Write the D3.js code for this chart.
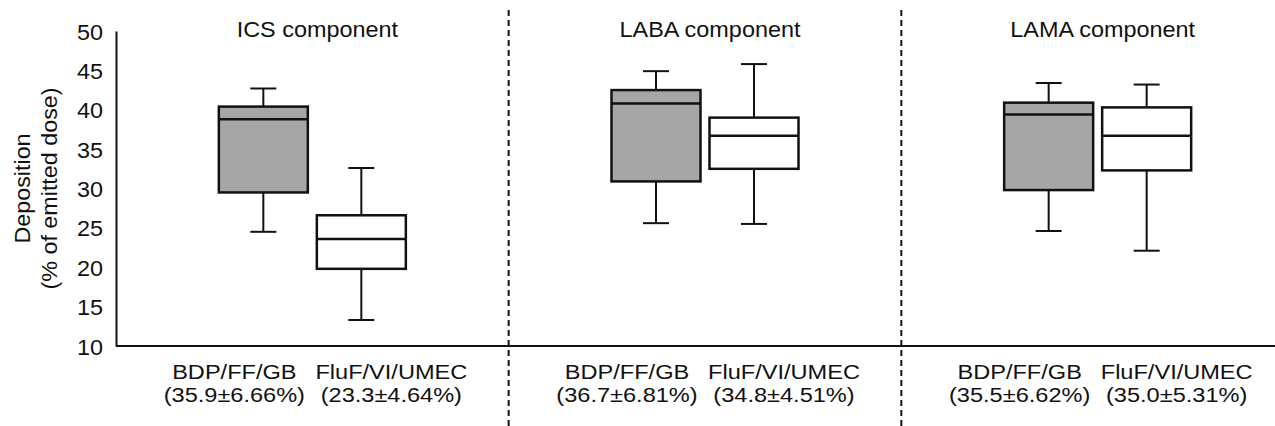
<!DOCTYPE html>
<html><head><meta charset="utf-8">
<script src="https://cdn.jsdelivr.net/npm/d3@7"></script>
<style>body{margin:0;background:#fff}svg{display:block;font-family:"Liberation Sans",Arial,sans-serif}</style>
</head><body>
<svg id="c" width="1275" height="426"></svg>
<script>
const groups = ["ICS component", "LABA component", "LAMA component"];
const products = ["BDP/FF/GB", "FluF/VI/UMEC"];
const meanLabels = ["(35.9±6.66%)", "(23.3±4.64%)", "(36.7±6.81%)", "(34.8±4.51%)", "(35.5±6.62%)", "(35.0±5.31%)"];
const whiskerLow  = [24.5, 13.3, 25.6, 25.5, 24.6, 22.1];
const q1          = [29.5, 19.8, 30.9, 32.5, 29.8, 32.3];
const median      = [38.8, 23.6, 40.8, 36.7, 39.4, 36.7];
const q3          = [40.4, 26.6, 42.5, 39.0, 40.9, 40.3];
const whiskerHigh = [42.7, 32.6, 44.9, 45.8, 43.4, 43.2];
const yTicks = [10, 15, 20, 25, 30, 35, 40, 45, 50];

const svg = d3.select("#c");
const x = d3.scaleBand().domain(groups).range([116, 1294]).padding(0);
const y = d3.scaleLinear().domain([10, 50]).range([346, 31]);
const sub = d3.scalePoint().domain(products).range([-49, 49]);
const labSub = d3.scalePoint().domain(products).range([-78, 79]);
const boxW = 89, capW = 26;
const fills = {"BDP/FF/GB": "#a6a6a6", "FluF/VI/UMEC": "#ffffff"};
const ink = "#111";

const boxes = [];
groups.forEach((g, gi) => products.forEach((p, pi) => {
  const i = gi * 2 + pi;
  boxes.push({g, p, lo: whiskerLow[i], q1: q1[i], med: median[i], q3: q3[i], hi: whiskerHigh[i], label: meanLabels[i]});
}));

// dashed separators
svg.append("g").selectAll("line").data(groups.slice(1)).join("line")
  .attr("x1", d => x(d)).attr("x2", d => x(d))
  .attr("y1", 10).attr("y2", 426)
  .attr("stroke", ink).attr("stroke-width", 2).attr("stroke-dasharray", "6,4");

// y axis
const yAxis = svg.append("g").attr("transform", "translate(116,0)")
  .call(d3.axisLeft(y).tickValues(yTicks).tickSize(0).tickPadding(13));
yAxis.select(".domain").attr("stroke", ink).attr("stroke-width", 2);
yAxis.selectAll(".tick text")
  .attr("font-size", 22.5).attr("fill", ink).attr("font-family", "Liberation Sans, Arial, sans-serif")
  .attr("transform", "translate(-13,0) scale(1.04,1) translate(13,0)").attr("dy", "0.36em");

// x axis line
svg.append("line").attr("x1", 116).attr("x2", 1275).attr("y1", y(10)).attr("y2", y(10))
  .attr("stroke", ink).attr("stroke-width", 2);

// y title
const yt = svg.append("text").attr("transform", `translate(0,${(y(10)+y(50))/2}) rotate(-90) scale(1.06,1)`)
  .attr("text-anchor", "middle").attr("font-size", 22).attr("fill", ink);
yt.append("tspan").attr("x", 0).attr("y", 30).text("Deposition");
yt.append("tspan").attr("x", 0).attr("y", 57).text("(% of emitted dose)");

// group titles
svg.append("g").selectAll("text").data(groups).join("text")
  .attr("transform", d => `translate(${x(d) + x.bandwidth() / 2 + 5},37) scale(1.09,1)`)
  .attr("text-anchor", "middle").attr("font-size", 21.5).attr("fill", ink).text(d => d);

// boxes
const bg = svg.append("g").selectAll("g").data(boxes).join("g")
  .attr("transform", d => `translate(${x(d.g) + x.bandwidth() / 2 + sub(d.p)},0)`);
bg.append("line").attr("x1", 0).attr("x2", 0).attr("y1", d => y(d.hi)).attr("y2", d => y(d.q3))
  .attr("stroke", ink).attr("stroke-width", 2);
bg.append("line").attr("x1", 0).attr("x2", 0).attr("y1", d => y(d.q1)).attr("y2", d => y(d.lo))
  .attr("stroke", ink).attr("stroke-width", 2);
bg.append("line").attr("x1", -capW/2).attr("x2", capW/2).attr("y1", d => y(d.hi)).attr("y2", d => y(d.hi))
  .attr("stroke", ink).attr("stroke-width", 2);
bg.append("line").attr("x1", -capW/2).attr("x2", capW/2).attr("y1", d => y(d.lo)).attr("y2", d => y(d.lo))
  .attr("stroke", ink).attr("stroke-width", 2);
bg.append("rect").attr("x", -boxW/2).attr("width", boxW)
  .attr("y", d => y(d.q3)).attr("height", d => y(d.q1) - y(d.q3))
  .attr("fill", d => fills[d.p]).attr("stroke", ink).attr("stroke-width", 2.5);
bg.append("line").attr("x1", -boxW/2).attr("x2", boxW/2).attr("y1", d => y(d.med)).attr("y2", d => y(d.med))
  .attr("stroke", ink).attr("stroke-width", 2.5);

// category labels
const lg = svg.append("g").selectAll("text").data(boxes).join("text")
  .attr("text-anchor", "middle").attr("font-size", 20.5).attr("fill", ink)
  .attr("transform", d => `translate(${x(d.g) + x.bandwidth() / 2 + labSub(d.p)},0) scale(1.15,1)`);
lg.append("tspan").attr("x", 0).attr("y", 379).text(d => d.p);
lg.append("tspan").attr("x", 0).attr("y", 402).text(d => d.label);
</script>
</body></html>
